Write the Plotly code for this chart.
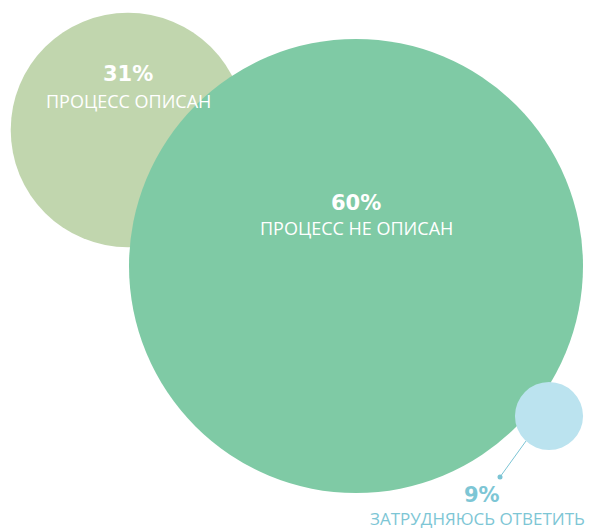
import plotly.graph_objects as go

# Data
values = [31, 60, 9]
pct_labels = ["31%", "60%", "9%"]
names = ["ПРОЦЕСС ОПИСАН", "ПРОЦЕСС НЕ ОПИСАН", "ЗАТРУДНЯЮСЬ ОТВЕТИТЬ"]

# Layout (pixel-space positions)
centers_x = [128, 356, 549]
centers_y = [130, 266, 416]
colors = ["#c1d6ae", "#7fcaa5", "#bbe3ef"]
scale = 227 / 60  # radius per unit value

W, H = 590, 529
fig = go.Figure()
fig.add_trace(go.Scatter(x=[0, W], y=[0, H], mode="markers",
                         marker=dict(opacity=0), hoverinfo="skip", showlegend=False))

for v, cx, cy, c in zip(values, centers_x, centers_y, colors):
    r = v * scale
    fig.add_shape(type="circle", xref="x", yref="y",
                  x0=cx - r, x1=cx + r, y0=cy - r, y1=cy + r,
                  fillcolor=c, line=dict(width=0), layer="below")

# callout line for small circle
fig.add_shape(type="line", xref="x", yref="y", x0=526, y0=441, x1=500, y1=477,
              line=dict(color="#7cc4d4", width=1))
fig.add_trace(go.Scatter(x=[500], y=[477], mode="markers",
                         marker=dict(color="#7cc4d4", size=5), hoverinfo="skip", showlegend=False))

pct_font = dict(family="DejaVu Sans", size=21, color="white")
lbl_font = dict(family="Open Sans", size=18, color="white")
label_pos = [(128, 74, 101), (356, 203, 228), (477, 495, 518)]
for i, (x, yp, yl) in enumerate(label_pos):
    col = "white" if i < 2 else "#7dc6d5"
    fsize = 18 if i < 2 else 17
    fig.add_annotation(x=x + (5 if i == 2 else 0), y=yp, xref="x", yref="y",
                       text="<b>" + pct_labels[i] + "</b>", showarrow=False,
                       font=dict(pct_font, color=col))
    fig.add_annotation(x=x, y=yl, xref="x", yref="y", text=names[i], showarrow=False,
                       borderpad=0, font=dict(lbl_font, color=col, size=fsize))

fig.update_layout(
    width=W, height=H, margin=dict(l=0, r=0, t=0, b=0),
    paper_bgcolor="white", plot_bgcolor="white",
    xaxis=dict(range=[0, W], visible=False, fixedrange=True),
    yaxis=dict(range=[H, 0], visible=False, fixedrange=True),
    showlegend=False,
)
fig.write_html("out.html", config={"displayModeBar": False},
               post_script="document.body.style.margin='0';document.body.style.overflow='hidden';")
